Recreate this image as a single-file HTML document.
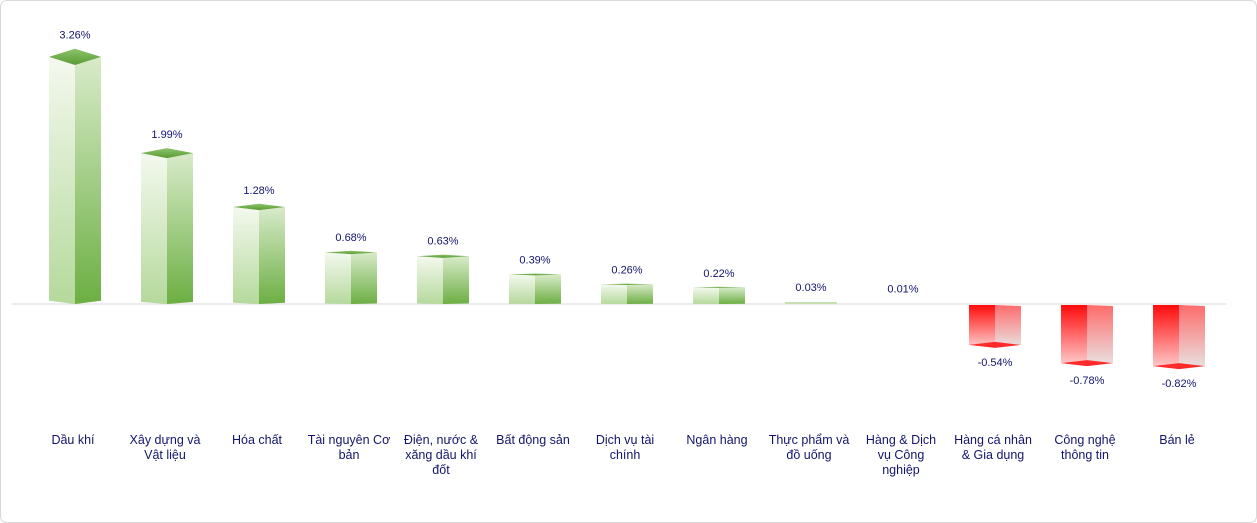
<!DOCTYPE html>
<html><head><meta charset="utf-8"><style>
body{margin:0;background:#fff}
svg{display:block;font-family:"Liberation Sans",Arial,sans-serif}
</style></head><body>
<svg width="1257" height="523" viewBox="0 0 1257 523" xmlns="http://www.w3.org/2000/svg">
<defs>
<linearGradient id="gl" x1="0" y1="0" x2="0" y2="1"><stop offset="0" stop-color="#f4f9ef"/><stop offset="1" stop-color="#b5d99c"/></linearGradient>
<linearGradient id="gr" x1="0" y1="0" x2="0" y2="1"><stop offset="0" stop-color="#d8ebc9"/><stop offset="1" stop-color="#6caf43"/></linearGradient>
<linearGradient id="gt" x1="0" y1="0" x2="0" y2="1"><stop offset="0" stop-color="#8cc46a"/><stop offset="1" stop-color="#5a9a34"/></linearGradient>
<linearGradient id="rl" x1="0" y1="0" x2="0" y2="1"><stop offset="0" stop-color="#ff0a0a"/><stop offset="1" stop-color="#ffd0d0"/></linearGradient>
<linearGradient id="rr" x1="0" y1="0" x2="0" y2="1"><stop offset="0" stop-color="#ff6b6b"/><stop offset="1" stop-color="#e8e4e4"/></linearGradient>
</defs>
<rect x="0.5" y="0.5" width="1256" height="522" rx="6" fill="#fff" stroke="#d9d9d9"/>
<line x1="12" y1="304" x2="1226" y2="304" stroke="#d9d9d9" stroke-width="1"/>
<g id="bars"></g>
<g fill="#14146e" font-size="11" text-anchor="middle" id="vals"></g>
<g fill="#14146e" font-size="12.5" text-anchor="middle" id="cats"></g>
<script>
var d=[["Dầu khí",3.26],["Xây dựng và|Vật liệu",1.99],["Hóa chất",1.28],["Tài nguyên  Cơ|bản",0.68],["Điện, nước &|xăng dầu khí|đốt",0.63],["Bất động sản",0.39],["Dịch vụ tài|chính",0.26],["Ngân hàng",0.22],["Thực phẩm và|đồ uống",0.03],["Hàng & Dịch|vụ Công|nghiệp",0.01],["Hàng cá nhân|& Gia dụng",-0.54],["Công nghệ|thông tin",-0.78],["Bán lẻ",-0.82]];
var ns="http://www.w3.org/2000/svg",B=document.getElementById("bars"),V=document.getElementById("vals"),C=document.getElementById("cats");
function el(p,t,a,txt){var e=document.createElementNS(ns,t);for(var k in a)e.setAttribute(k,a[k]);if(txt)e.textContent=txt;p.appendChild(e);return e;}
var base=304,s=75.8,w=26;
d.forEach(function(r,i){var cx=75+92*i,v=r[1],H=Math.abs(v)*s;
 if(v>0){var t=base-H,h=Math.max(0.5,H*0.033);
  if(H>3){el(B,"polygon",{points:(cx-w)+","+t+" "+cx+","+(t+h)+" "+cx+","+base+" "+(cx-w)+","+(base-h*0.4),fill:"url(#gl)"});
  el(B,"polygon",{points:cx+","+(t+h)+" "+(cx+w)+","+t+" "+(cx+w)+","+(base-h*0.4)+" "+cx+","+base,fill:"url(#gr)"});
  el(B,"polygon",{points:(cx-w)+","+t+" "+cx+","+(t-h)+" "+(cx+w)+","+t+" "+cx+","+(t+h),fill:"url(#gt)"});}
  else if(v>0.02) el(B,"rect",{x:cx-w,y:base-2,width:2*w,height:2,fill:"#c6e0b2"});
  el(V,"text",{x:cx,y:t-h-10},v.toFixed(2)+"%");
 }else{var b=base+H,h=3;
  el(B,"polygon",{points:(cx-w)+",305 "+cx+",305 "+cx+","+(b+h)+" "+(cx-w)+","+b,fill:"url(#rl)"});
  el(B,"polygon",{points:cx+",305 "+(cx+w)+",306 "+(cx+w)+","+b+" "+cx+","+(b+h),fill:"url(#rr)"});
  el(B,"polygon",{points:(cx-w)+","+b+" "+cx+","+(b-h)+" "+(cx+w)+","+b+" "+cx+","+(b+h),fill:"#ff2a2a"});
  el(V,"text",{x:cx,y:b+21},v.toFixed(2)+"%");
 }
 r[0].split("|").forEach(function(l,j){el(C,"text",{x:cx-2,y:444+15*j,"xml:space":"preserve"},l);});
});
</script>
</svg>
</body></html>
